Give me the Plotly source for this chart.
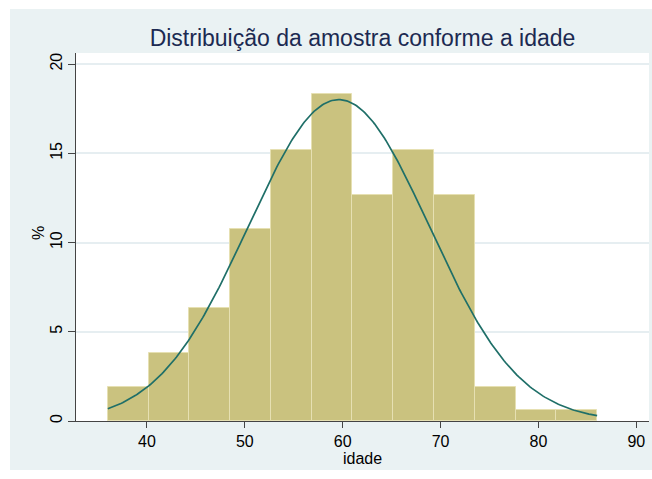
import numpy as np
import plotly.graph_objects as go

# ---- data ----
bin_start = 36.0
bin_end = 86.0
n_bins = 12
percent = [1.90, 3.80, 6.33, 10.76, 15.19, 18.35, 12.66, 15.19, 12.66, 1.90, 0.63, 0.63]
normal_mean = 59.6
normal_sd = 9.23
x_ticks = [40, 50, 60, 70, 80, 90]
y_ticks = [0, 5, 10, 15, 20]
title_text = "Distribuição da amostra conforme a idade"
x_title = "idade"
y_title = "%"

bin_width = (bin_end - bin_start) / n_bins
centers = [bin_start + bin_width * (i + 0.5) for i in range(n_bins)]

# normal overlay scaled to percent per bin (as Stata's histogram, normal)
xs = np.linspace(bin_start, bin_end, 300)
ys = 100 * bin_width * np.exp(-0.5 * ((xs - normal_mean) / normal_sd) ** 2) / (normal_sd * np.sqrt(2 * np.pi))

fig = go.Figure()
fig.add_trace(go.Bar(
    x=centers, y=percent, width=[bin_width] * n_bins,
    marker=dict(color="#cac27f", line=dict(color="#e6e0b2", width=1)),
    showlegend=False, hoverinfo="skip"))
fig.add_trace(go.Scatter(
    x=xs, y=ys, mode="lines",
    line=dict(color="#1f6f68", width=1.7),
    showlegend=False, hoverinfo="skip"))

font_family = "Liberation Sans, Arial, sans-serif"
W, H = 652, 479
L, R, T, B = 76, 3, 53, 58
pw, ph = W - L - R, H - T - B

fig.update_layout(
    width=W, height=H,
    margin=dict(l=L, r=R, t=T, b=B),
    paper_bgcolor="white",
    plot_bgcolor="rgba(0,0,0,0)",
    bargap=0,
    font=dict(family=font_family, color="black", size=16),
    title=dict(text=title_text, x=(L + pw / 2) / W, xanchor="center", xref="container",
               y=1 - 38 / H, yref="container", yanchor="middle",
               font=dict(size=23, color="#1c2a52", family=font_family)),
    shapes=[
        dict(type="rect", xref="paper", yref="paper", layer="below",
             x0=(10 - L) / pw, x1=(W + 5 - L) / pw,
             y0=1 - (470 - T) / ph, y1=1 + (T - 9) / ph,
             fillcolor="#eaf2f3", line=dict(width=0)),
        dict(type="rect", xref="paper", yref="paper", layer="below",
             x0=0, x1=1, y0=0, y1=1,
             fillcolor="white", line=dict(width=0)),
    ],
    annotations=[
        dict(text=y_title, xref="paper", yref="paper", x=(39 - L) / pw, y=1 - (233 - T) / ph,
             xanchor="center", yanchor="middle", showarrow=False, textangle=-90,
             font=dict(size=16, color="black")),
    ],
    xaxis=dict(
        range=[32.75, 91.3], tickvals=x_ticks, ticks="outside", ticklen=6,
        tickcolor="#444", showline=True, linecolor="#444", linewidth=1,
        showgrid=False, zeroline=False,
        tickfont=dict(size=16, color="black"),
        title=dict(text=x_title, font=dict(size=16, color="black"), standoff=0),
    ),
    yaxis=dict(
        range=[0, 20.62], tickvals=y_ticks, ticks="outside", ticklen=7,
        tickcolor="#444", showline=True, linecolor="#444", linewidth=1,
        showgrid=True, gridcolor="#e6eef1", gridwidth=1.5, zeroline=False,
        tickangle=-90, tickfont=dict(size=16, color="black"),
    ),
)

fig.write_html("out.html", config={"displayModeBar": False},
               post_script="document.body.style.margin='0';document.body.style.overflow='hidden';")
